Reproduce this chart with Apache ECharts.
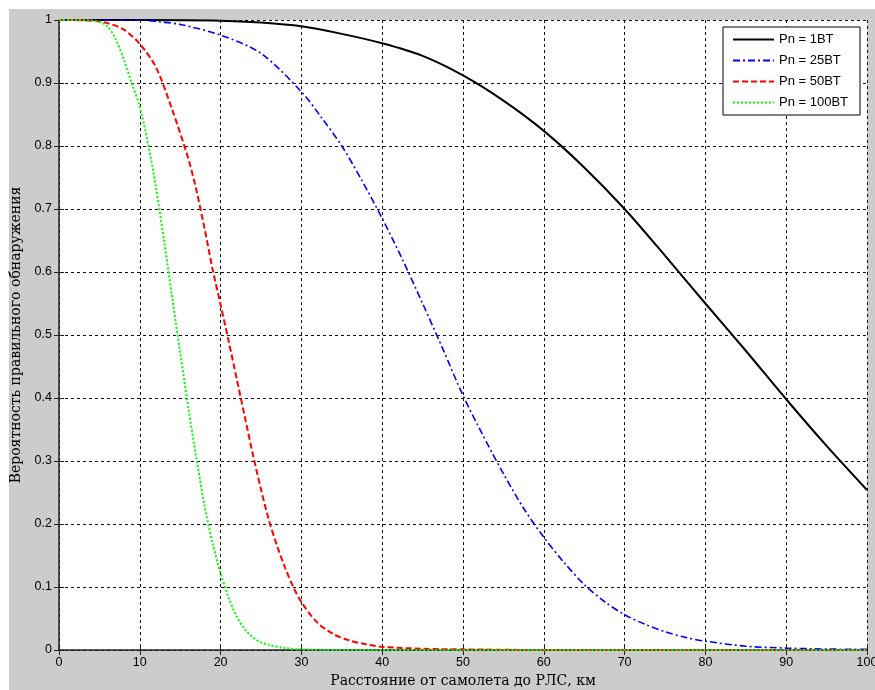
<!DOCTYPE html>
<html>
<head>
<meta charset="utf-8">
<script src="https://cdn.jsdelivr.net/npm/echarts@6/dist/echarts.min.js"></script>
<style>
  html, body { margin: 0; padding: 0; background: #ffffff; }
  #bg { position: absolute; left: 9px; top: 9px; width: 866px; height: 681px; background: #cccccc; }
  #chart { position: absolute; left: 0; top: 0; width: 875px; height: 690px; }
</style>
</head>
<body>
<div id="bg"></div>
<div id="chart"></div>
<script>
// Distance (km) and detection probability
const seriesNames = ['Pn = 1BT', 'Pn = 25BT', 'Pn = 50BT', 'Pn = 100BT'];

const distBlack = [0, 10, 20, 25, 30, 35, 40, 45, 50, 55, 60, 65, 70, 75, 80, 85, 90, 95, 100];
const probBlack = [1, 1, 0.999, 0.996, 0.99, 0.978, 0.963, 0.943, 0.912, 0.872, 0.824, 0.766, 0.700, 0.626, 0.55, 0.475, 0.398, 0.324, 0.254];

const distBlue = [0, 10, 12.5, 15, 20, 25, 30, 32.5, 35, 37.5, 40, 42.5, 45, 47.5, 50, 52.5, 55, 57.5, 60, 62.5, 65, 67.5, 70, 72.5, 75, 77.5, 80, 85, 90, 95, 100];
const probBlue = [1, 1, 0.997, 0.993, 0.976, 0.947, 0.886, 0.845, 0.80, 0.745, 0.685, 0.62, 0.55, 0.478, 0.404, 0.34, 0.28, 0.225, 0.179, 0.139, 0.104, 0.077, 0.056, 0.041, 0.029, 0.02, 0.014, 0.006, 0.003, 0.0015, 0.001];

const distRed = [0, 4, 6, 8, 10, 12, 14, 16, 17, 18, 19, 20, 21, 22, 23, 24, 25, 26, 27, 28, 29, 30, 32, 34, 36, 38, 40, 45, 50, 60, 70, 80, 90, 100];
const probRed = [1, 0.999, 0.995, 0.985, 0.962, 0.925, 0.858, 0.78, 0.73, 0.67, 0.605, 0.548, 0.49, 0.43, 0.37, 0.31, 0.255, 0.205, 0.165, 0.13, 0.1, 0.076, 0.043, 0.025, 0.015, 0.009, 0.005, 0.002, 0.001, 0, 0, 0, 0, 0];

const distGreen = [0, 2, 4, 5, 6, 7, 8, 9, 10, 11, 12, 13, 14, 15, 16, 17, 18, 19, 20, 21, 22, 23, 24, 25, 26, 28, 30, 35, 40, 50, 60, 70, 80, 90, 100];
const probGreen = [1, 1, 0.999, 0.997, 0.99, 0.97, 0.938, 0.9, 0.862, 0.805, 0.735, 0.65, 0.56, 0.472, 0.385, 0.305, 0.23, 0.17, 0.122, 0.083, 0.053, 0.033, 0.02, 0.012, 0.008, 0.003, 0.001, 0, 0, 0, 0, 0, 0, 0, 0];

const xTicks = [0, 10, 20, 30, 40, 50, 60, 70, 80, 90, 100];
const xTitle = 'Расстояние от самолета до РЛС, км';
const yTitle = 'Вероятность правильного обнаружения';

function pairs(xs, ys) { return xs.map((x, i) => [x, ys[i]]); }

const chart = echarts.init(document.getElementById('chart'));
const labelFont = { color: '#000', fontFamily: 'Liberation Sans, Arial, sans-serif', fontSize: 12.5 };
const titleFont = { color: '#000', fontFamily: 'DejaVu Serif, Liberation Serif, serif', fontSize: 14 };
const gridLine = { show: true, lineStyle: { color: '#111', type: [3, 3], width: 1 } };

function mkSeries(name, data, color, type, width) {
  return {
    name: name, type: 'line', data: data, symbol: 'none', smooth: 0.3,
    lineStyle: { color: color, type: type, width: width }, itemStyle: { color: color },
    clip: true
  };
}

chart.setOption({
  animation: false,
  backgroundColor: 'transparent',
  grid: { left: 59, top: 20, width: 808, height: 630, show: true, backgroundColor: '#ffffff', borderWidth: 0,
          containLabel: false, outerBoundsMode: 'none' },
  legend: {
    left: 723, top: 27, orient: 'vertical',
    backgroundColor: '#ffffff', borderColor: '#000', borderWidth: 1,
    padding: [6, 12, 6, 9], itemWidth: 41, itemHeight: 12, itemGap: 8,
    itemStyle: { color: 'transparent', borderColor: 'transparent', borderWidth: 0 },
    textStyle: { color: '#000', fontFamily: 'Liberation Sans, Arial, sans-serif', fontSize: 13 },
    data: seriesNames
  },
  xAxis: [{
    type: 'value', min: 0, max: 100, interval: 10,
    axisLine: { show: true, onZero: false, lineStyle: { color: '#222', width: 1.5 } },
    axisTick: { show: true, inside: true, length: 5, lineStyle: { color: '#222' } },
    axisLabel: Object.assign({ margin: 6 }, labelFont),
    splitLine: gridLine,
    name: xTitle, nameLocation: 'middle', nameGap: 24,
    nameTextStyle: titleFont
  }, {
    type: 'value', min: 0, max: 100, interval: 10, position: 'top',
    axisLine: { show: false }, axisTick: { show: true, inside: true, length: 5, lineStyle: { color: '#222' } },
    axisLabel: { show: false }, splitLine: { show: false }
  }],
  yAxis: [{
    type: 'value', min: 0, max: 1, interval: 0.1,
    axisLine: { show: true, onZero: false, lineStyle: { color: '#222', width: 1.5 } },
    axisTick: { show: true, inside: true, length: 5, lineStyle: { color: '#222' } },
    axisLabel: Object.assign({ margin: 7 }, labelFont),
    splitLine: gridLine,
    name: yTitle, nameLocation: 'middle', nameGap: 33,
    nameTextStyle: titleFont
  }, {
    type: 'value', min: 0, max: 1, interval: 0.1, position: 'right',
    axisLine: { show: false }, axisTick: { show: true, inside: true, length: 5, lineStyle: { color: '#222' } },
    axisLabel: { show: false }, splitLine: { show: false }
  }],
  series: [
    mkSeries(seriesNames[0], pairs(distBlack, probBlack), '#000000', 'solid', 2),
    mkSeries(seriesNames[1], pairs(distBlue, probBlue), '#0000ff', [7, 3, 2, 3], 1.6),
    mkSeries(seriesNames[2], pairs(distRed, probRed), '#ff0000', [6, 3], 2),
    mkSeries(seriesNames[3], pairs(distGreen, probGreen), '#00ff00', [2, 2], 2)
  ]
});
</script>
</body>
</html>
